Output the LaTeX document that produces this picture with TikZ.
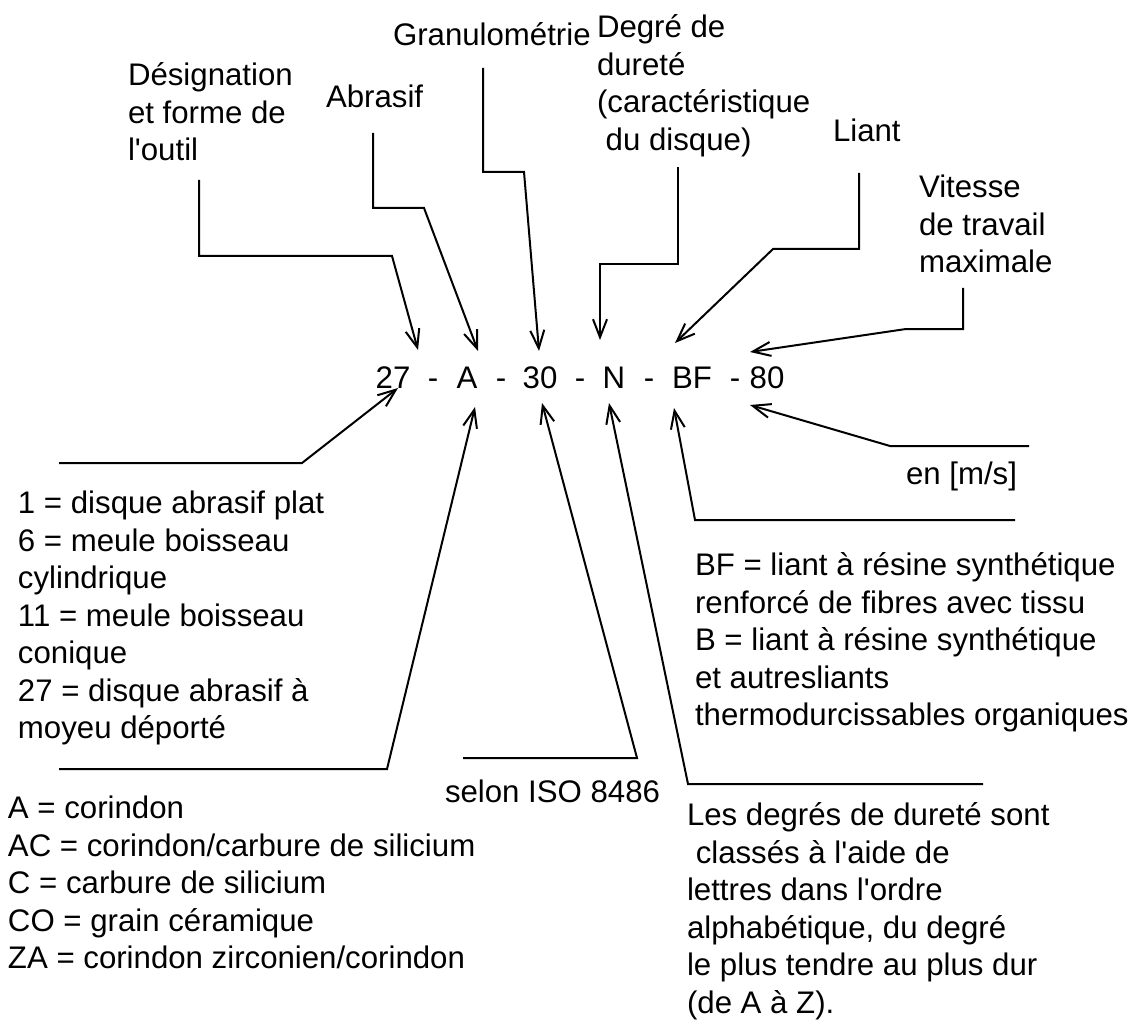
\documentclass[tikz,border=0pt]{standalone}
\usepackage{fontspec}
\setmainfont{Liberation Sans}[Ligatures=TeXOff]
\usetikzlibrary{arrows.meta}

\begin{document}
\begin{tikzpicture}[x=0.5pt,y=-0.5pt,inner sep=0pt,outer sep=0pt,line width=1pt,
>={Straight Barb[length=9pt,width=7pt]},
txt/.style={anchor=north west,align=left,font=\fontsize{15.6}{18.75}\selectfont},
code/.style={anchor=base,font=\fontsize{15.6}{18.75}\selectfont}]

\useasboundingbox (0,0) rectangle (1138,1021);

% designation
\node[code] (c27) at (393,388) {27};
\node[code] (cA) at (467,388) {A};
\node[code] (c30) at (540,388) {30};
\node[code] (cN) at (614,388) {N};
\node[code] (cBF) at (692,388) {BF};
\node[code] (c80) at (767,388) {80};
\foreach \x [count=\i] in {433,501,580,649,735}
  \node[code] (d\i) at (\x,388) {-};

% titles above
\node[txt] (desig) at (128,63) {Désignation\\et forme de\\l'outil};
\node[txt] (abras) at (326,85) {Abrasif};
\node[txt] (granu) at (393,23) {Granulométrie};
\node[txt] (degre) at (597,15) {Degré de\\dureté\\(caractéristique\\\hspace*{.28em}du disque)};
\node[txt] (liant) at (833,119) {Liant};
\node[txt] (vites) at (919,175) {Vitesse\\de travail\\maximale};

% explanations below
\node[txt] (forms) at (18,491) {1 = disque abrasif plat\\6 = meule boisseau\\cylindrique\\11 = meule boisseau\\conique\\27 = disque abrasif à\\moyeu déporté};
\node[txt] (abrlist) at (8,796) {A = corindon\\AC = corindon/carbure de silicium\\C = carbure de silicium\\CO = grain céramique\\ZA = corindon zirconien/corindon};
\node[txt] (selon) at (445,780) {selon ISO 8486};
\node[txt] (enms) at (906,462) {en [m/s]};
\node[txt] (liantlist) at (695,553) {BF = liant à résine synthétique\\renforcé de fibres avec tissu\\B = liant à résine synthétique\\et autresliants\\thermodurcissables organiques};
\node[txt] (durlist) at (687,803) {Les degrés de dureté sont\\\hspace*{.28em}classés à l'aide de\\lettres dans l'ordre\\alphabétique, du degré\\le plus tendre au plus dur\\(de A à Z).};

% leaders from above
\draw[<-] ([shift={(25,-38)}]c27.base) -- ++(-26,-94) -- ++(-193,0) -- ++(0,-76);
\draw[<-] ([shift={(11,-37)}]cA.base) -- ++(-54,-143) -- ++(-51,0) -- ++(0,-75);
\draw[<-] ([shift={(-1,-37)}]c30.base) -- ++(-15,-179) -- ++(-41,0) -- ++(0,-104);
\draw[<-] ([shift={(-14,-48)}]cN.base) -- ++(0,-76) -- ++(78,0) -- ++(0,-97);
\draw[<-] ([shift={(-17,-45)}]cBF.base) -- ++(98,-94) -- ++(86,0) -- ++(0,-76);
\draw[<-] ([shift={(-17,-36)}]c80.base) -- ++(156,-23) -- ++(57,0) -- ++(0,-41);

% leaders from below
\draw[<-] ([shift={(5,0)}]c27.base) -- ++(-96,75) -- ++(-243,0);
\draw[<-] ([shift={(8,19)}]cA.base) -- ++(-88,362) -- ++(-328,0);
\draw[<-] ([shift={(2,15)}]c30.base) -- ++(95,355) -- ++(-174,0);
\draw[<-] ([shift={(-5,15)}]cN.base) -- ++(79,381) -- ++(295,0);
\draw[<-] ([shift={(-18,20)}]cBF.base) -- ++(21,112) -- ++(320,0);
\draw[<-] ([shift={(-17,17)}]c80.base) -- ++(140,41) -- ++(139,0);

\end{tikzpicture}
\end{document}
